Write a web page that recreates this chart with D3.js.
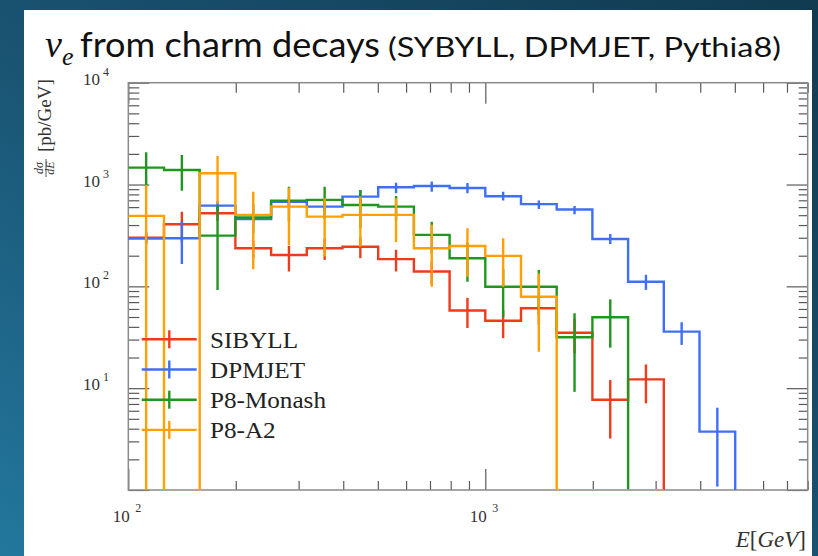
<!DOCTYPE html>
<html>
<head>
<meta charset="utf-8">
<script src="https://cdn.jsdelivr.net/npm/d3@7"></script>
<style>
  html, body { margin: 0; padding: 0; overflow: hidden; background: #15445e; }
  svg { display: block; }
</style>
</head>
<body>
<svg id="chart" width="818" height="556"></svg>
<script>
// Energy bin edges [GeV], 10 bins per decade
const binEdges = [100, 125.9, 158.5, 199.5, 251.2, 316.2, 398.1, 501.2, 631.0, 794.3,
                  1000, 1258.9, 1584.9, 1995.3, 2511.9, 3162.3, 3981.1, 5011.9, 6309.6, 7943.3];

// dσ/dE [pb/GeV] per bin, with lower / upper ends of the error bars
const sibyllVals = [300, 407, 522, 237, 203, 237, 245, 185, 140, 58, 46, 61, 35, 7.7, 12.2];
const sibyllLow  = [260, 274, 440, 190, 140, 182, 189, 140, 105, 39, 31, 42, 22, 3.2, 7.1];
const sibyllHigh = [340, 540, 604, 284, 249, 292, 301, 229, 175, 77, 58.5, 80, 48, 12, 17.1];

const dpmjetVals = [295, 297, 621, 459, 675, 607, 761, 940, 968, 925, 768, 642, 568, 292, 111, 35.9, 3.74];
const dpmjetLow  = [265, 166, 560, 420, 610, 550, 660, 820, 850, 820, 695, 574, 510, 260, 92.3, 26.6, 1.08];
const dpmjetHigh = [330, 432, 690, 500, 740, 670, 880, 1042, 1068, 1035, 850, 695, 615, 327, 130, 44.4, 6.43];

const monashVals = [1466, 1391, 315, 475, 695, 706, 630, 607, 320, 189, 99, 99, 31.6, 49.7];
const monashLow  = [960, 871, 92, 330, 437, 459, 375, 441, 208, 111, 50, 53, 9.2, 25];
const monashHigh = [2075, 1954, 631, 640, 953, 953, 885, 773, 432, 267, 148, 145, 54.4, 74.5];

const a2Vals = [492, 0, 1291, 503, 607, 484, 503, 503, 237, 249, 199, 79, 0, 0, 0];
const a2Low  = [0, null, 650, 147, 254, 196, 245, 273, 99, 124, 99, 22.8, null, null, null];
const a2High = [990, null, 1910, 851, 930, 733, 761, 733, 403, 372, 296, 134, null, null, null];

const seriesNames  = ["SIBYLL", "DPMJET", "P8-Monash", "P8-A2"];
const seriesColors = ["#f03a1c", "#3f6ff6", "#1f971f", "#ffa000"];

const xMajorTicks = [100, 1000];
const xMinorTicks = [200, 300, 400, 500, 600, 700, 800, 900, 2000, 3000, 4000, 5000, 6000, 7000, 8000];
const yMajorTicks = [1, 10, 100, 1000, 10000];
const yMinorTicks = [];
[1, 10, 100, 1000].forEach(d => { for (let m = 2; m <= 9; m++) yMinorTicks.push(d * m); });
const xLabelExps = [2, 3];
const yLabelExps = [1, 2, 3, 4];

const series = [
  { name: seriesNames[0], color: seriesColors[0], vals: sibyllVals, lo: sibyllLow, hi: sibyllHigh },
  { name: seriesNames[1], color: seriesColors[1], vals: dpmjetVals, lo: dpmjetLow, hi: dpmjetHigh },
  { name: seriesNames[2], color: seriesColors[2], vals: monashVals, lo: monashLow, hi: monashHigh },
  { name: seriesNames[3], color: seriesColors[3], vals: a2Vals, lo: a2Low, hi: a2High }
];

const svg = d3.select("#chart");
const W = 818, H = 556;

// slide background
const defs = svg.append("defs");
const grad = defs.append("linearGradient").attr("id", "bg")
  .attr("x1", "0").attr("y1", "1").attr("x2", "1").attr("y2", "0");
grad.append("stop").attr("offset", "0").attr("stop-color", "#23779d");
grad.append("stop").attr("offset", "0.45").attr("stop-color", "#1a5473");
grad.append("stop").attr("offset", "1").attr("stop-color", "#113a50");
svg.append("rect").attr("width", W).attr("height", H).attr("fill", "url(#bg)");

// white panel
svg.append("rect").attr("x", 24).attr("y", 10).attr("width", 788).attr("height", H - 10).attr("fill", "#ffffff");

// title
const title = svg.append("text").attr("y", 57).attr("fill", "#111");
title.append("tspan").attr("x", 45).attr("font-family", "Liberation Serif").attr("font-style", "italic")
  .attr("font-size", 38).text("ν");
title.append("tspan").attr("font-family", "Liberation Serif").attr("font-style", "italic")
  .attr("font-size", 26).attr("dy", 8).text("e");
svg.append("text").attr("x", 80).attr("y", 57).attr("fill", "#111")
  .attr("font-family", "Lato").attr("font-size", 35)
  .attr("textLength", 300).attr("lengthAdjust", "spacingAndGlyphs").text("from charm decays");
svg.append("text").attr("x", 388).attr("y", 57).attr("fill", "#111")
  .attr("font-family", "Lato").attr("font-size", 27)
  .attr("textLength", 393).attr("lengthAdjust", "spacingAndGlyphs").text("(SYBYLL, DPMJET, Pythia8)");

// plot frame
const plotLeft = 128.3, plotRight = 807.7, plotTop = 82.7, plotBottom = 490;
const x = d3.scaleLog().domain([100, 8000]).range([plotLeft, plotRight]);
const y = d3.scaleLog().domain([1, 10000]).range([plotBottom, plotTop]);

defs.append("clipPath").attr("id", "plotclip")
  .append("rect").attr("x", plotLeft).attr("y", plotTop)
  .attr("width", plotRight - plotLeft).attr("height", plotBottom - plotTop);

// ticks pointing inward on all four sides
const tickColor = "#5a5a5a";
function drawTicks(axisGen, tx, ty, values, size) {
  const g = svg.append("g").attr("transform", `translate(${tx},${ty})`)
    .call(axisGen.tickValues(values).tickSize(size).tickFormat(""));
  g.select(".domain").remove();
  g.selectAll(".tick line").attr("stroke", tickColor).attr("stroke-width", 1.2);
}
drawTicks(d3.axisTop(x), 0, plotBottom, xMajorTicks, 21);
drawTicks(d3.axisTop(x), 0, plotBottom, xMinorTicks, 9);
drawTicks(d3.axisBottom(x), 0, plotTop, xMajorTicks, 21);
drawTicks(d3.axisBottom(x), 0, plotTop, xMinorTicks, 10);
drawTicks(d3.axisRight(y), plotLeft, 0, yMajorTicks, 21);
drawTicks(d3.axisRight(y), plotLeft, 0, yMinorTicks, 11);
drawTicks(d3.axisLeft(y), plotRight, 0, yMajorTicks, 21);
drawTicks(d3.axisLeft(y), plotRight, 0, yMinorTicks, 9);

svg.append("rect").attr("x", plotLeft).attr("y", plotTop)
  .attr("width", plotRight - plotLeft).attr("height", plotBottom - plotTop)
  .attr("fill", "none").attr("stroke", "#8a8a8a").attr("stroke-width", 1.5);

// tick labels 10^n
const labelFont = "Liberation Serif";
xLabelExps.forEach(e => {
  const px = x(Math.pow(10, e));
  svg.append("text").attr("x", px - 7).attr("y", 522).attr("text-anchor", "middle")
    .attr("font-family", labelFont).attr("font-size", 17).attr("fill", "#333").text("10");
  svg.append("text").attr("x", px + 7).attr("y", 512)
    .attr("font-family", labelFont).attr("font-size", 12).attr("fill", "#333").text(e);
});
yLabelExps.forEach(e => {
  const py = y(Math.pow(10, e));
  svg.append("text").attr("x", 100).attr("y", py + 2).attr("text-anchor", "end")
    .attr("font-family", labelFont).attr("font-size", 17).attr("fill", "#333").text("10");
  svg.append("text").attr("x", 103).attr("y", py - 7)
    .attr("font-family", labelFont).attr("font-size", 12).attr("fill", "#333").text(e);
});

// axis titles
const xt = svg.append("text").attr("x", 806).attr("y", 547).attr("text-anchor", "end")
  .attr("font-family", labelFont).attr("font-size", 23).attr("fill", "#333");
xt.append("tspan").attr("font-style", "italic").text("E");
xt.append("tspan").text("[");
xt.append("tspan").attr("font-style", "italic").text("GeV");
xt.append("tspan").text("]");

const yt = svg.append("g").attr("transform", "translate(51,178) rotate(-90)");
yt.append("text").attr("x", 10).attr("y", -8).attr("text-anchor", "middle")
  .attr("font-family", labelFont).attr("font-style", "italic").attr("font-size", 12).attr("fill", "#333").text("dσ");
yt.append("line").attr("x1", 1).attr("x2", 19).attr("y1", -5).attr("y2", -5)
  .attr("stroke", "#333").attr("stroke-width", 0.8);
yt.append("text").attr("x", 10).attr("y", 3).attr("text-anchor", "middle")
  .attr("font-family", labelFont).attr("font-style", "italic").attr("font-size", 12).attr("fill", "#333").text("dE");
yt.append("text").attr("x", 26).attr("y", 0)
  .attr("font-family", labelFont).attr("font-size", 19).attr("fill", "#333").text("[pb/GeV]");

// histograms
const plot = svg.append("g").attr("clip-path", "url(#plotclip)");
const yPos = v => (v > 0 ? y(v) : y(1) + 0.5);
const line = d3.line();
const lw = 2.4;

series.forEach(s => {
  const pts = [];
  s.vals.forEach((v, i) => {
    pts.push([x(binEdges[i]), yPos(v)]);
    pts.push([x(binEdges[i + 1]), yPos(v)]);
  });
  pts.push([x(binEdges[s.vals.length]), y(1) + 0.5]);
  plot.append("path").attr("d", line(pts)).attr("fill", "none")
    .attr("stroke", s.color).attr("stroke-width", lw).attr("stroke-linejoin", "miter");

  s.vals.forEach((v, i) => {
    if (s.hi[i] == null) return;
    const cx = x(Math.sqrt(binEdges[i] * binEdges[i + 1]));
    plot.append("line").attr("x1", cx).attr("x2", cx)
      .attr("y1", yPos(s.hi[i])).attr("y2", s.lo[i] > 0 ? y(s.lo[i]) : plotBottom + 5)
      .attr("stroke", s.color).attr("stroke-width", lw);
  });
});

// legend
const legend = svg.append("g");
series.forEach((s, i) => {
  const ly = 339.3 + i * 30.2;
  legend.append("line").attr("x1", 141.7).attr("x2", 196.7).attr("y1", ly).attr("y2", ly)
    .attr("stroke", s.color).attr("stroke-width", lw);
  legend.append("line").attr("x1", 169.3).attr("x2", 169.3).attr("y1", ly - 9).attr("y2", ly + 9)
    .attr("stroke", s.color).attr("stroke-width", lw);
  const t = legend.append("text").attr("x", 210).attr("y", ly + 8.5)
    .attr("font-family", labelFont).attr("font-size", 23.5).attr("fill", "#222").text(s.name);
  // the legend face runs a little wider than the installed serif
  t.attr("textLength", t.node().getComputedTextLength() * 1.07).attr("lengthAdjust", "spacingAndGlyphs");
});
</script>
</body>
</html>
